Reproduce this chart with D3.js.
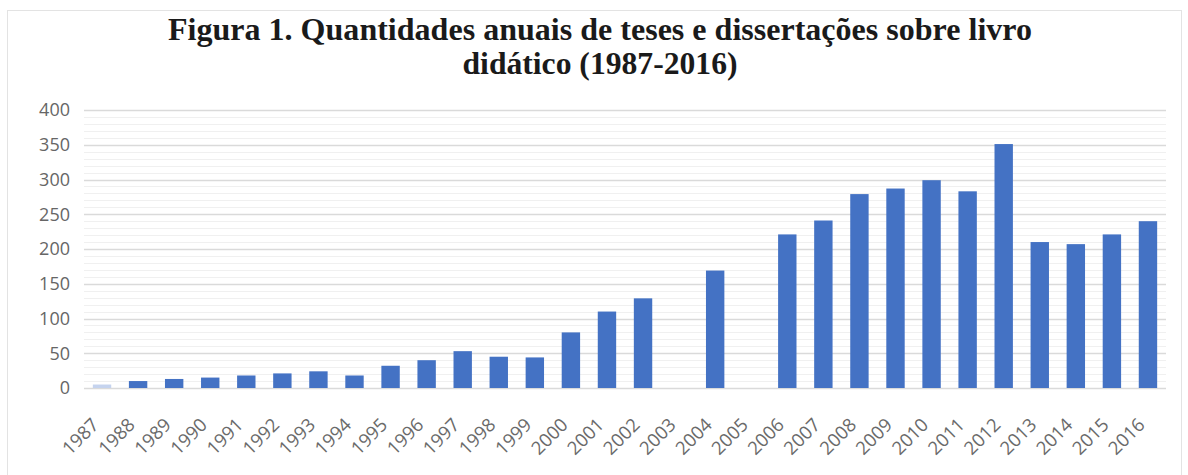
<!DOCTYPE html>
<html>
<head>
<meta charset="utf-8">
<script src="https://cdn.jsdelivr.net/npm/d3@7"></script>
<style>
  body { margin: 0; background: #fff; }
</style>
</head>
<body>
<div id="chart"></div>
<script>
const years = ["1987","1988","1989","1990","1991","1992","1993","1994","1995","1996",
  "1997","1998","1999","2000","2001","2002","2003","2004","2005","2006",
  "2007","2008","2009","2010","2011","2012","2013","2014","2015","2016"]
const counts = [5, 10, 13, 15, 18, 21, 24, 18, 32, 40,
  53, 45, 44, 80, 110, 129, 0, 169, 0, 221,
  241, 279, 287, 299, 283, 351, 210, 207, 221, 240]
const yTicks = [0, 50, 100, 150, 200, 250, 300, 350, 400]
const fadedYears = ["1987"]
const titleLines = ["Figura 1. Quantidades anuais de teses e dissertações sobre livro", "didático (1987-2016)"]

const width = 1188, height = 475
const margin = { top: 110, right: 22, bottom: 87, left: 84 }

const svg = d3.select("#chart").append("svg")
  .attr("width", width)
  .attr("height", height)

// outer frame
svg.append("rect")
  .attr("x", 7.5).attr("y", 10.5)
  .attr("width", 1174).attr("height", 470)
  .attr("fill", "none")
  .attr("stroke", "#e3e3e3")

// title
svg.append("g").selectAll("text")
  .data(titleLines)
  .join("text")
    .attr("x", 600)
    .attr("y", (d, i) => 40 + i * 34)
    .attr("text-anchor", "middle")
    .attr("font-family", "'Liberation Serif', 'Times New Roman', serif")
    .attr("font-weight", "bold")
    .attr("font-size", 31)
    .attr("fill", "#1a1a1a")
    .attr("textLength", (d, i) => i === 0 ? 864 : 275)
    .attr("lengthAdjust", "spacingAndGlyphs")
    .text(d => d)

const x = d3.scaleBand()
  .domain(years)
  .range([margin.left, width - margin.right])
  .paddingInner(0.49)
  .paddingOuter(0.245)

const y = d3.scaleLinear()
  .domain([0, 400])
  .range([height - margin.bottom, margin.top])

// minor grid
svg.append("g").selectAll("line")
  .data(d3.range(0, 401, 10).filter(v => v % 50 !== 0))
  .join("line")
    .attr("x1", margin.left).attr("x2", width - margin.right)
    .attr("y1", d => Math.round(y(d)) + 0.5).attr("y2", d => Math.round(y(d)) + 0.5)
    .attr("stroke", "#f0f0f0")

// major grid
svg.append("g").selectAll("line")
  .data(yTicks)
  .join("line")
    .attr("x1", margin.left).attr("x2", width - margin.right)
    .attr("y1", d => Math.round(y(d)) + 0.5).attr("y2", d => Math.round(y(d)) + 0.5)
    .attr("stroke", "#dadada")
    .attr("stroke-width", 1.3)

// y axis labels
const yAxis = svg.append("g")
  .attr("transform", `translate(${margin.left - 14},0)`)
  .call(d3.axisLeft(y).tickValues(yTicks).tickSize(0).tickPadding(0))
yAxis.select(".domain").remove()
yAxis.selectAll("text")
  .attr("font-family", "'Open Sans', sans-serif")
  .attr("font-size", 18)
  .attr("fill", "#666")

// bars
svg.append("g").selectAll("rect")
  .data(years.map((yr, i) => ({ year: yr, value: counts[i] })))
  .join("rect")
    .attr("x", d => x(d.year))
    .attr("width", x.bandwidth())
    .attr("y", d => y(d.value))
    .attr("height", d => y(0) - y(d.value))
    .attr("fill", d => fadedYears.includes(d.year) ? "#c5d3ee" : "#4472c4")

// x axis labels
const xAxis = svg.append("g")
  .attr("transform", `translate(0,${y(0)})`)
  .call(d3.axisBottom(x).tickSize(0).tickPadding(0))
xAxis.select(".domain").remove()
xAxis.selectAll("text")
  .attr("font-family", "'Open Sans', sans-serif")
  .attr("font-size", 18.5)
  .attr("fill", "#6a6a6a")
  .attr("text-anchor", "end")
  .attr("dy", null)
  .attr("y", null)
  .attr("transform", "translate(-2,38) rotate(-45)")
</script>
</body>
</html>
